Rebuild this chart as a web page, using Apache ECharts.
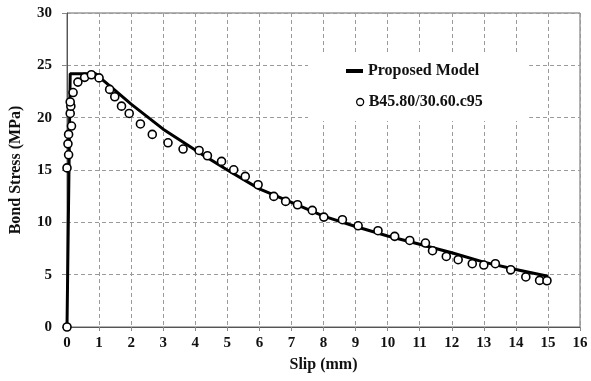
<!DOCTYPE html>
<html>
<head>
<meta charset="utf-8">
<script src="https://cdn.jsdelivr.net/npm/echarts@6/dist/echarts.min.js"></script>
<style>
  html, body { margin: 0; padding: 0; background: #fff; }
  #chart { width: 591px; height: 381px; }
</style>
</head>
<body>
<div id="chart"></div>
<script>
// proposed model curve
var modelSlip   = [0, 0.1, 0.9, 1.0, 1.5, 2.0, 2.5, 3.0, 4.0, 5.0, 6.0, 7.0, 8.0, 9.0, 10.0, 11.0, 12.0, 13.0, 14.0, 15.0];
var modelStress = [0, 24.2, 24.2, 23.9, 22.6, 21.3, 20.1, 18.9, 16.9, 15.0, 13.2, 11.9, 10.6, 9.6, 8.7, 7.9, 7.1, 6.2, 5.5, 4.85];

// test specimen B45.80/30.60.c95
var testSlip   = [0, 0, 0.05, 0.03, 0.05, 0.14, 0.1, 0.12, 0.1, 0.19, 0.34, 0.55, 0.76, 1.0, 1.33, 1.49, 1.7, 1.94, 2.29, 2.66,
                  3.15, 3.62, 4.12, 4.38, 4.82, 5.2, 5.56, 5.96, 6.45, 6.82, 7.19, 7.65, 8.01, 8.59, 9.08, 9.7, 10.22, 10.69,
                  11.18, 11.4, 11.83, 12.2, 12.64, 13.0, 13.36, 13.84, 14.31, 14.74, 14.97];
var testStress = [0, 15.2, 16.45, 17.5, 18.4, 19.2, 20.4, 21.1, 21.5, 22.4, 23.4, 23.85, 24.1, 23.8, 22.7, 22.0, 21.1, 20.4, 19.4, 18.4,
                  17.6, 17.0, 16.87, 16.36, 15.82, 15.02, 14.39, 13.59, 12.48, 12.0, 11.68, 11.14, 10.5, 10.25, 9.67, 9.2, 8.66, 8.27,
                  8.02, 7.29, 6.74, 6.43, 6.05, 5.92, 6.05, 5.47, 4.78, 4.45, 4.42];

var modelName = 'Proposed Model';
var testName = 'B45.80/30.60.c95';
var fontFam = '"Liberation Serif", "Times New Roman", serif';

var modelData = modelSlip.map(function (x, i) { return [x, modelStress[i]]; });
var testData = testSlip.map(function (x, i) { return [x, testStress[i]]; });

var option = {
  animation: false,
  backgroundColor: '#fff',
  grid: {
    left: 67, right: 11, top: 13, bottom: 54,
    show: true, borderColor: '#666', borderWidth: 1
  },
  legend: [{
    data: [{ name: modelName, icon: 'rect' }],
    left: 308, top: 55,
    padding: [8, 50, 42, 38],
    backgroundColor: '#fff',
    itemWidth: 17, itemHeight: 4,
    textStyle: { fontFamily: fontFam, fontWeight: 'bold', fontSize: 16, color: '#111' }
  }, {
    data: [{ name: testName, icon: 'circle', itemStyle: { color: '#fff', borderColor: '#000', borderWidth: 1.3 } }],
    left: 356, top: 94,
    padding: 0,
    itemWidth: 7, itemHeight: 7,
    textStyle: { fontFamily: fontFam, fontWeight: 'bold', fontSize: 16, color: '#111' }
  }],
  xAxis: {
    type: 'value', min: 0, max: 16, interval: 1,
    name: 'Slip (mm)', nameLocation: 'middle', nameGap: 30,
    nameTextStyle: { fontFamily: fontFam, fontWeight: 'bold', fontSize: 16, color: '#111' },
    axisLine: { lineStyle: { color: '#555', width: 1 } },
    axisTick: { show: true, length: 4, lineStyle: { color: '#888' } },
    axisLabel: { margin: 9, fontFamily: fontFam, fontWeight: 'bold', fontSize: 15, color: '#111' },
    splitLine: { show: true, lineStyle: { color: '#9a9a9a', type: [4, 3], width: 1 } }
  },
  yAxis: {
    type: 'value', min: 0, max: 30, interval: 5,
    name: 'Bond Stress (MPa)', nameLocation: 'middle', nameGap: 43,
    nameTextStyle: { fontFamily: fontFam, fontWeight: 'bold', fontSize: 16, color: '#111' },
    axisLine: { show: true, lineStyle: { color: '#555', width: 1 } },
    axisTick: { show: true, length: 5, lineStyle: { color: '#888' } },
    axisLabel: { margin: 15, fontFamily: fontFam, fontWeight: 'bold', fontSize: 15, color: '#111' },
    splitLine: { show: true, lineStyle: { color: '#9a9a9a', type: [4, 3], width: 1 } }
  },
  series: [{
    name: modelName,
    type: 'line',
    data: modelData,
    showSymbol: false,
    symbol: 'none',
    itemStyle: { color: '#000' },
    lineStyle: { color: '#000', width: 3 },
    z: 2
  }, {
    name: testName,
    type: 'scatter',
    data: testData,
    symbol: 'circle',
    symbolSize: 8,
    itemStyle: { color: '#fff', borderColor: '#000', borderWidth: 1.6, opacity: 1 },
    z: 3
  }]
};

var myChart = echarts.init(document.getElementById('chart'));
myChart.setOption(option);
</script>
</body>
</html>
